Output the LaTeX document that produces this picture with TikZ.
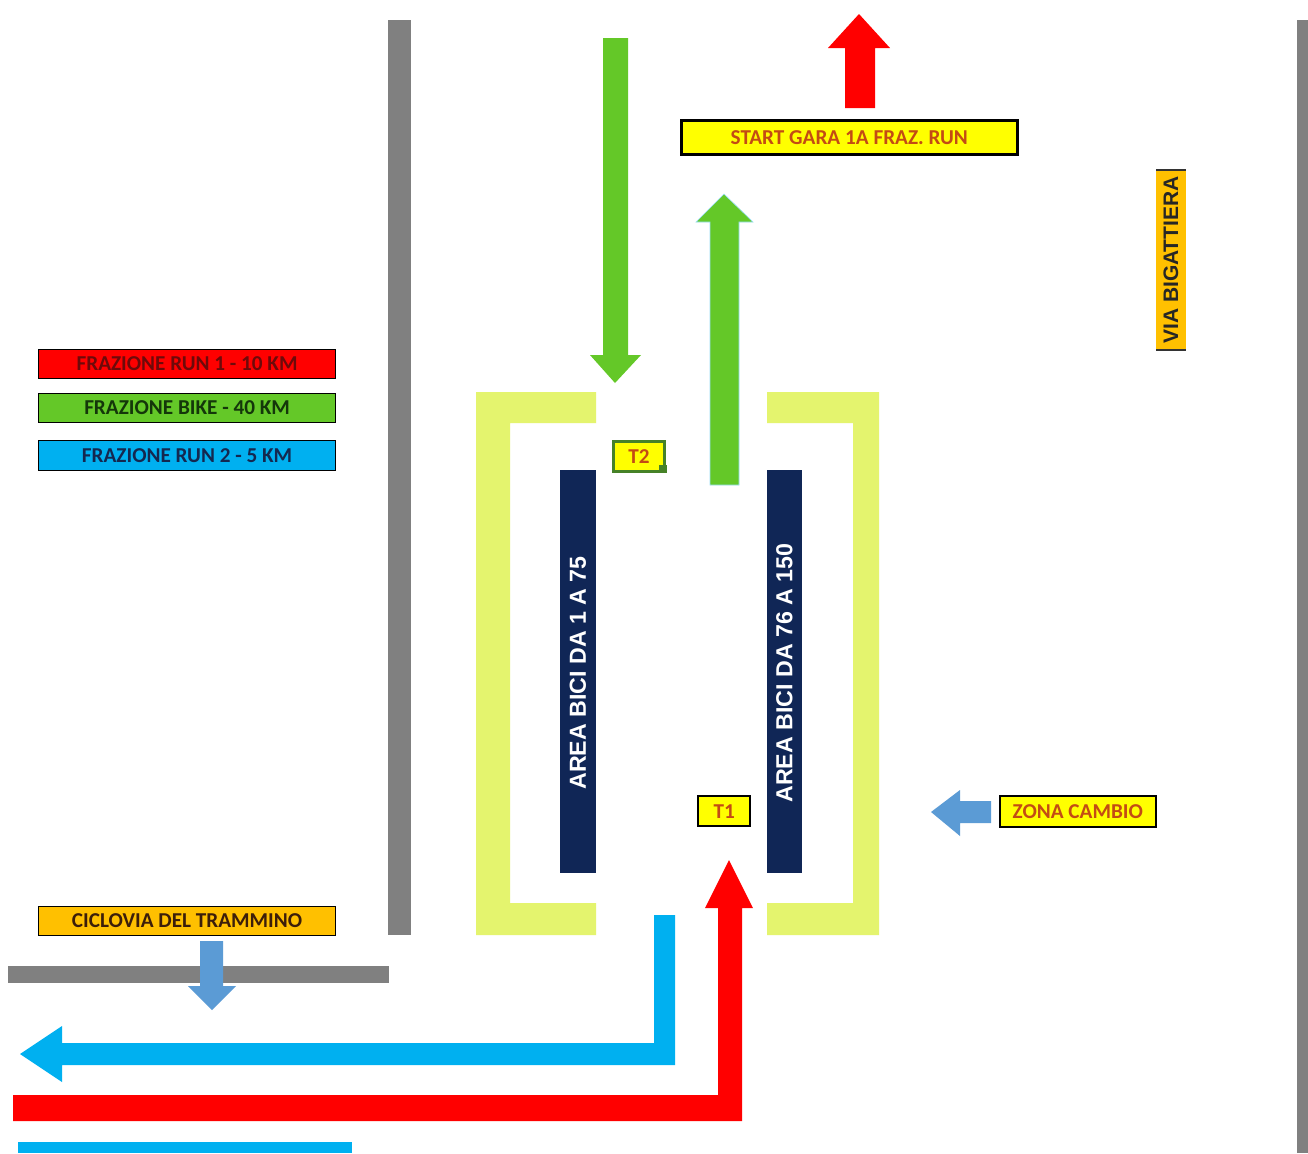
\documentclass[tikz,border=0pt]{standalone}
\usepackage{fontspec}
\setmainfont{Carlito}
\newfontfamily\arialf{Liberation Sans}
\definecolor{cRed}{RGB}{255,0,0}
\definecolor{cGreen}{RGB}{100,200,40}
\definecolor{cLBlue}{RGB}{0,176,240}
\definecolor{cMBlue}{RGB}{91,155,213}
\definecolor{cNavy}{RGB}{16,38,86}
\definecolor{cLime}{RGB}{228,244,110}
\definecolor{cGrey}{RGB}{128,128,128}
\definecolor{cOrange}{RGB}{255,192,0}
\definecolor{cYellow}{RGB}{255,255,0}
\definecolor{cTxtOr}{RGB}{195,75,20}
\definecolor{cDkGreen}{RGB}{70,130,40}
\tikzset{
  lab/.style={draw=black, line width=0.6pt, inner sep=0pt, anchor=north west,
    font=\bfseries\fontsize{10.6}{12}\selectfont, align=center},
  navytxt/.style={rotate=90, text=white, inner sep=0pt,
    font=\arialf\bfseries\fontsize{11.6}{13}\selectfont},
  road/.style={fill=cGrey},
}
\begin{document}
\begin{tikzpicture}[x=0.5pt,y=-0.5pt]
\useasboundingbox[fill=white] (0,0) rectangle (1308,1153);

% roads
\fill[road] (388,20) rectangle (411,935);
\fill[road] (8,966) rectangle (389,983);
\fill[road] (1297,20) rectangle (1308,1153);

% transition area brackets
\fill[cLime] (476,392) -- (596,392) -- (596,423) -- (510,423) -- (510,903) -- (596,903) -- (596,935) -- (476,935) -- cycle;
\fill[cLime] (767,392) -- (879,392) -- (879,935) -- (767,935) -- (767,903) -- (853,903) -- (853,423) -- (767,423) -- cycle;

% bike areas
\fill[cNavy] (560,470) rectangle (596,873);
\fill[cNavy] (767,470) rectangle (802,873);
\node[navytxt] (areaA) at (578,673) {AREA BICI DA 1 A 75};
\node[navytxt] (areaB) at (784.5,673) {AREA BICI DA 76 A 150};

% green arrows
\fill[cGreen] (603,38) -- (628,38) -- (628,355) -- (641,355) -- (615,383) -- (590,355) -- (603,355) -- cycle;
\filldraw[fill=cGreen, draw=cLBlue!40, line width=0.3pt] (710,485) -- (710,222) -- (696,222) -- (724,194) -- (753,222) -- (739,222) -- (739,485) -- cycle;

% red start arrow
\fill[cRed] (845,108) -- (845,48) -- (828,48) -- (859,14) -- (890,48) -- (875,48) -- (875,108) -- cycle;

% start label
\node[lab, line width=1.3pt, fill=cYellow, text=cTxtOr, minimum width=168pt, minimum height=17pt] (start) at (680,119) {START GARA 1A FRAZ. RUN};

% via bigattiera
\fill[cOrange] (1156,170) rectangle (1186,350);
\draw[line width=0.8pt, black!80] (1156,170) -- (1186,170) (1156,350) -- (1186,350);
\node[rotate=90, inner sep=0pt, text=black!85, font=\arialf\bfseries\fontsize{10.5}{12}\selectfont] (via) at (1171,260) {VIA BIGATTIERA};

% legend
\node[lab, fill=cRed, text={rgb,255:red,110;green,10;blue,10}, minimum width=148.5pt, minimum height=14.5pt] (legR) at (38,349) {FRAZIONE RUN 1 - 10 KM};
\node[lab, fill=cGreen, text={rgb,255:red,20;green,55;blue,10}, minimum width=148.5pt, minimum height=14.5pt] (legG) at (38,393) {FRAZIONE BIKE - 40 KM};
\node[lab, fill=cLBlue, text={rgb,255:red,20;green,40;blue,80}, minimum width=148.5pt, minimum height=15pt] (legB) at (38,440) {FRAZIONE RUN 2 - 5 KM};

% T2 and T1
\node[lab, draw=cDkGreen, line width=1.4pt, fill=cYellow, text=cTxtOr, minimum width=25.5pt, minimum height=15pt] (t2) at (612,440) {T2};
\fill[cDkGreen] (659,465) rectangle (667,473);
\node[lab, line width=1.2pt, fill=cYellow, text=cTxtOr, minimum width=26pt, minimum height=15pt] (t1) at (697,795) {T1};

% zona cambio
\fill[cMBlue] (991,801) -- (991,823) -- (960,823) -- (960,836) -- (931,812) -- (960,790) -- (960,801) -- cycle;
\node[lab, line width=0.8pt, fill=cYellow, text=cTxtOr, minimum width=78pt, minimum height=15.5pt] (zona) at (999,795) {ZONA CAMBIO};

% ciclovia
\node[lab, fill=cOrange, text={rgb,255:red,60;green,30;blue,10}, minimum width=148.5pt, minimum height=14.5pt] (cicl) at (38,906) {CICLOVIA DEL TRAMMINO};
\fill[cMBlue] (200,941) -- (223,941) -- (223,986) -- (236,986) -- (212,1010) -- (188,986) -- (200,986) -- cycle;

% blue bent arrow (run 2 exit)
\fill[cLBlue] (654,915) -- (675,915) -- (675,1065) -- (62,1065) -- (62,1082) -- (20,1054) -- (62,1026) -- (62,1043) -- (654,1043) -- cycle;

% red bent arrow (run 1 into T1)
\fill[cRed] (13,1095) -- (718,1095) -- (718,908) -- (705,908) -- (729,860) -- (753,908) -- (742,908) -- (742,1121) -- (13,1121) -- cycle;

% bottom blue bar
\fill[cLBlue] (18,1142) rectangle (352,1153);
\end{tikzpicture}
\end{document}
